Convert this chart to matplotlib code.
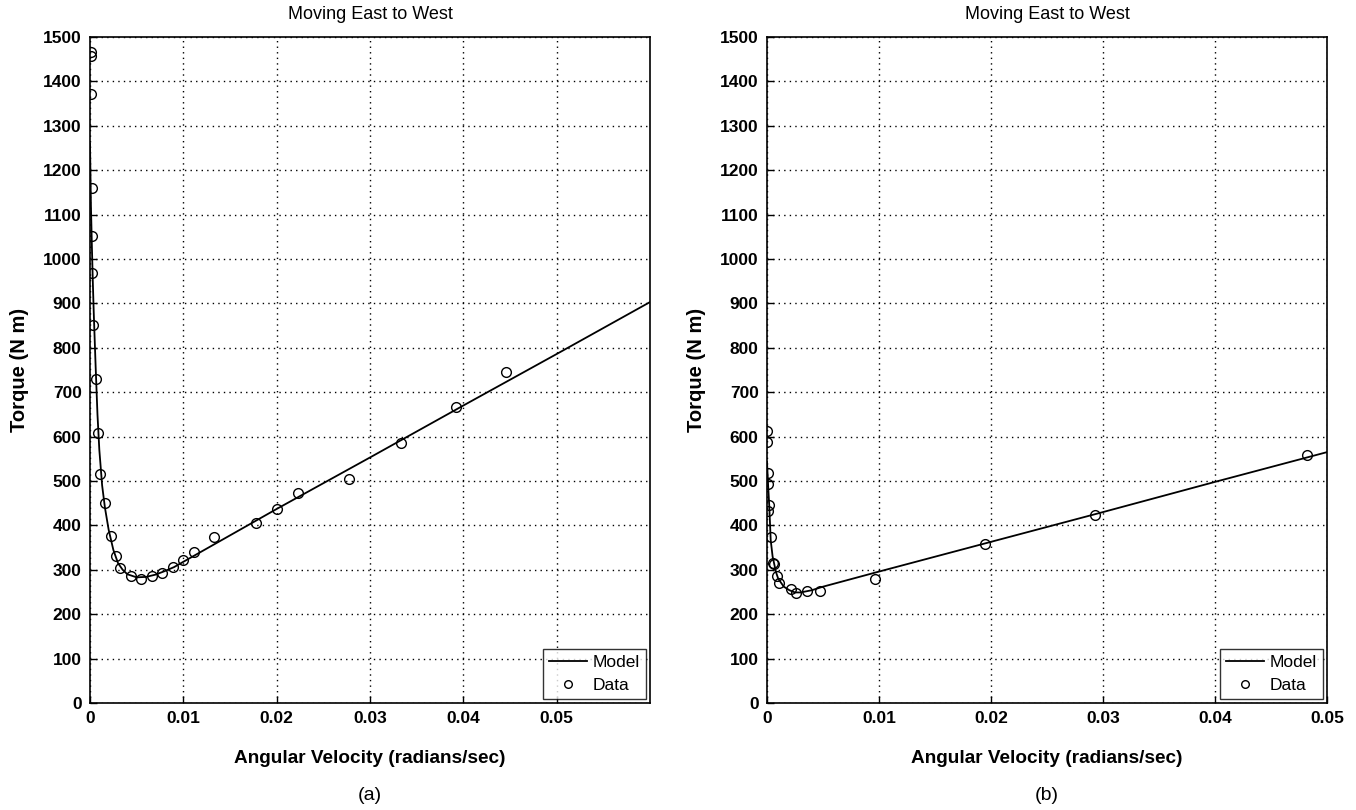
import numpy as np
import matplotlib
matplotlib.use('Agg')
import matplotlib.pyplot as plt

plt.rcParams['font.family'] = ['Liberation Sans', 'DejaVu Sans']

# (a) data
a_data_w = [0.0001, 0.0001, 0.0001, 0.0002, 0.0002, 0.00025, 0.00035, 0.0006, 0.00086,
            0.00108, 0.00165, 0.0022, 0.0028, 0.00326, 0.00437, 0.0055, 0.0066, 0.0077,
            0.00885, 0.00997, 0.0111, 0.0133, 0.0178, 0.0200, 0.0223, 0.0278, 0.0333,
            0.0392, 0.0446]
a_data_t = [1467, 1457, 1371, 1160, 1052, 969, 851, 729, 608,
            516, 451, 377, 332, 305, 286, 279, 285, 292,
            307, 322, 339, 375, 406, 438, 472, 505, 585,
            667, 745]
a_model_w = [0, 0.0001, 0.0002, 0.0003, 0.0004, 0.0006, 0.0008, 0.001, 0.0013, 0.0016,
             0.002, 0.0025, 0.003, 0.0035, 0.004, 0.005, 0.006, 0.007, 0.008, 0.009,
             0.01, 0.02, 0.03, 0.04, 0.05, 0.06]
a_model_t = [1260, 1120, 1030, 950, 880, 760, 650, 570, 490, 440,
             390, 345, 315, 300, 290, 283, 284, 289, 297, 306,
             318, 437, 553, 670, 786, 903]

# (b) data
b_data_w = [0.0000, 0.0000, 0.0001, 0.0001, 0.00006, 0.0002, 0.0004, 0.0005, 0.00065,
            0.0009, 0.0011, 0.0021, 0.0026, 0.0036, 0.0047, 0.0096, 0.0195, 0.0293, 0.0482]
b_data_t = [613, 588, 519, 493, 432, 446, 375, 316, 312,
            286, 270, 257, 247, 252, 252, 279, 358, 423, 559]
b_model_w = [0, 0.0001, 0.0002, 0.00033, 0.0005, 0.0008, 0.001, 0.0015, 0.002, 0.0025,
             0.003, 0.004, 0.005, 0.01, 0.02, 0.03, 0.04, 0.05]
b_model_t = [543, 490, 445, 367, 330, 295, 280, 262, 254, 249,
             249, 254, 262, 296, 363, 430, 498, 565]

x_ticks = [0, 0.01, 0.02, 0.03, 0.04, 0.05]
x_ticklabels = ['0', '0.01', '0.02', '0.03', '0.04', '0.05']

panels = [
    (a_model_w, a_model_t, a_data_w, a_data_t, 0.06, '(a)'),
    (b_model_w, b_model_t, b_data_w, b_data_t, 0.05, '(b)'),
]

fig = plt.figure(figsize=(13.56, 8.1), dpi=100)
lefts = [90 / 1356, 767 / 1356]
W = 560 / 1356
B = 1 - 703 / 810
H = 666 / 810

for left, (mw, mt, dw, dt, xmax, tag) in zip(lefts, panels):
    ax = fig.add_axes([left, B, W, H])
    ax.plot(mw, mt, color='black', lw=1.3, label='Model')
    ax.plot(dw, dt, 'o', mfc='none', mec='black', ms=7, mew=1.0, label='Data')
    ax.set_xlim(0, xmax)
    ax.set_ylim(0, 1500)
    ax.set_xticks(x_ticks)
    ax.set_xticklabels(x_ticklabels)
    ax.set_yticks(np.arange(0, 1501, 100))
    ax.grid(True, color='black', linestyle=(0, (1, 3)), lw=1.0)
    ax.tick_params(direction='in', length=5, width=1, labelsize=12.5, pad=6)
    for lab in ax.get_xticklabels() + ax.get_yticklabels():
        lab.set_fontweight('bold')
    for sp in ax.spines.values():
        sp.set_linewidth(1.2)
    ax.set_title('Moving East to West', fontsize=13, pad=13)
    ax.set_ylabel('Torque (N m)', fontsize=14.5, fontweight='bold', labelpad=10)
    ax.set_xlabel('Angular Velocity (radians/sec)', fontsize=13.7, fontweight='bold', labelpad=17)
    leg = ax.legend(loc='lower right', fontsize=12.5, frameon=True, fancybox=False,
                    edgecolor='black', borderpad=0.35, handlelength=2.2,
                    labelspacing=0.4, borderaxespad=0.25, handletextpad=0.3)
    leg.get_frame().set_linewidth(1.0)
    for h in leg.legend_handles:
        if hasattr(h, 'set_markersize'):
            h.set_markersize(5.5)
    fig.text(left + W / 2, 1 - 795 / 810, tag, ha='center', va='center', fontsize=14)

fig.savefig('out.png', dpi=100)
